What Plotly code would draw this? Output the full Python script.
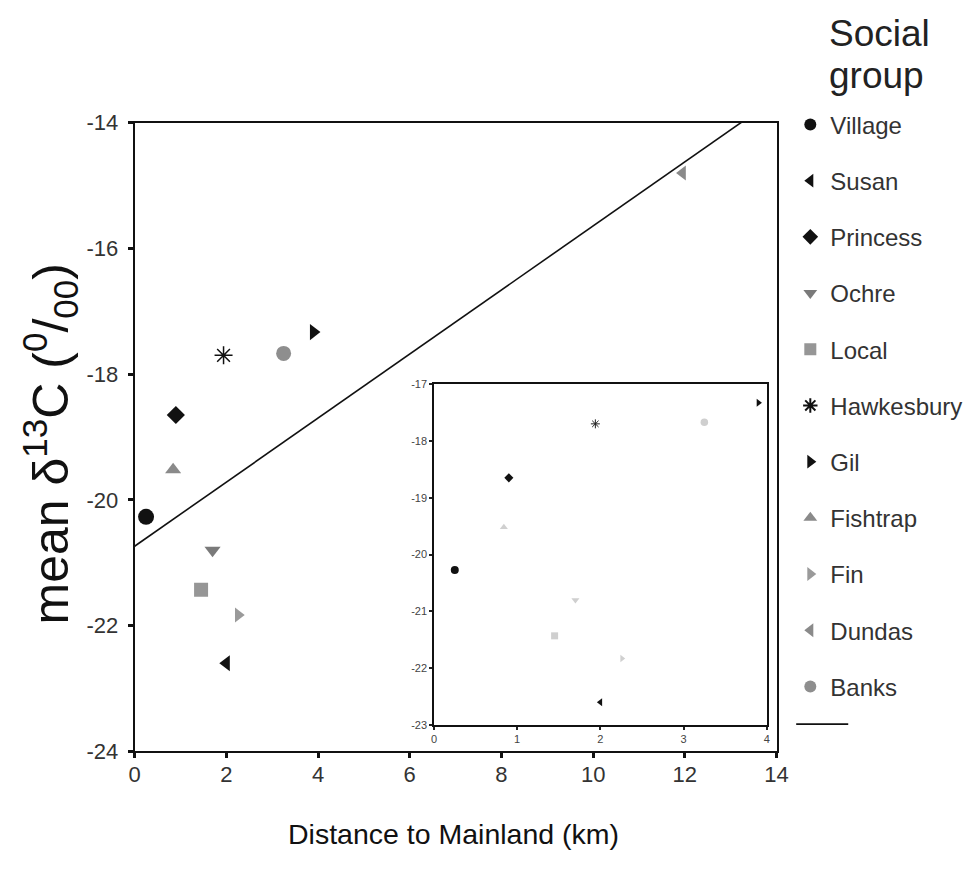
import numpy as np
import plotly.graph_objects as go

# Mean carbon isotope value per social group versus distance to the mainland
groups = ["Village", "Susan", "Princess", "Ochre", "Local", "Hawkesbury",
          "Gil", "Fishtrap", "Fin", "Dundas", "Banks"]
distance_km = [0.25, 2.0, 0.9, 1.7, 1.45, 1.94, 3.9, 0.84, 2.26, 11.95, 3.25]
mean_d13c = [-20.27, -22.6, -18.65, -20.8, -21.43, -17.7, -17.33, -19.52,
             -21.83, -14.8, -17.67]

symbols = ["circle", "triangle-left", "diamond", "triangle-down", "square",
           "asterisk-open", "triangle-right", "triangle-up", "triangle-right",
           "triangle-left", "circle"]
colors = ["#111111", "#111111", "#111111", "#7a7a7a", "#969696", "#111111",
          "#111111", "#8a8a8a", "#9a9a9a", "#8a8a8a", "#8e8e8e"]
inset_colors = ["#111111", "#111111", "#111111", "#cfcfcf", "#cfcfcf", "#222222",
                "#111111", "#d0d0d0", "#d0d0d0", "#d0d0d0", "#cfcfcf"]
sizes = [16, 14, 14, 14, 14, 15, 14, 14, 13, 13, 15]

x_ticks = [0, 2, 4, 6, 8, 10, 12, 14]
y_ticks = [-14, -16, -18, -20, -22, -24]
inset_x_ticks = [0, 1, 2, 3, 4]
inset_y_ticks = [-17, -18, -19, -20, -21, -22, -23]


def tick_labels(vals):
    # plain ASCII hyphen for negative numbers
    return [str(v) for v in vals]


# Least-squares line through all groups
slope, intercept = np.polyfit(distance_km, mean_d13c, 1)
fit_x = np.array([0.0, 14.0])
fit_y = intercept + slope * fit_x

W, H = 979, 876
FONT = "Liberation Sans, Arial, sans-serif"

fig = go.Figure()

for i, g in enumerate(groups):
    is_star = symbols[i] == "asterisk-open"
    fig.add_trace(go.Scatter(
        x=[distance_km[i]], y=[mean_d13c[i]], mode="markers", name=g,
        legendgroup=g,
        marker=dict(symbol=symbols[i], size=sizes[i], color=colors[i],
                    line=dict(width=1.5 if is_star else 0, color=colors[i])),
        xaxis="x", yaxis="y"))

fig.add_trace(go.Scatter(
    x=fit_x, y=fit_y, mode="lines", showlegend=False,
    line=dict(color="#111111", width=1.6), xaxis="x", yaxis="y"))

# Inset: close-up of the groups within 4 km
for i, g in enumerate(groups):
    is_star = symbols[i] == "asterisk-open"
    fig.add_trace(go.Scatter(
        x=[distance_km[i]], y=[mean_d13c[i]], mode="markers", showlegend=False,
        marker=dict(symbol=symbols[i], size=max(5, sizes[i] * 0.5),
                    color=inset_colors[i],
                    line=dict(width=1 if is_star else 0, color=inset_colors[i])),
        xaxis="x2", yaxis="y2"))

main_x = [131 / W, 785 / W]
main_y = [1 - 761 / H, 1 - 114 / H]
ins_x = [436 / W, 775 / W]
ins_y = [1 - 734 / H, 1 - 383 / H]

axis_common = dict(showgrid=False, zeroline=False, showline=True,
                   linecolor="#111111", mirror=True, ticks="outside")

fig.update_layout(
    width=W, height=H,
    margin=dict(l=0, r=0, t=0, b=0),
    paper_bgcolor="white", plot_bgcolor="white",
    font=dict(family=FONT, color="#222222"),
    xaxis=dict(domain=main_x, range=[0, 14], tickvals=x_ticks,
               ticktext=tick_labels(x_ticks), ticklabelstandoff=-3,
               linewidth=2, ticklen=5, tickwidth=3, tickcolor="#111111",
               tickfont=dict(size=22, color="#333333"), anchor="y",
               **axis_common),
    yaxis=dict(domain=main_y, range=[-24, -14], tickvals=y_ticks,
               ticktext=tick_labels(y_ticks), ticklabelstandoff=5,
               linewidth=2, ticklen=5, tickwidth=3, tickcolor="#111111",
               tickfont=dict(size=22, color="#333333"), anchor="x",
               **axis_common),
    xaxis2=dict(domain=ins_x, range=[0, 4], tickvals=inset_x_ticks,
                ticktext=tick_labels(inset_x_ticks),
                linewidth=1.5, ticklen=3, tickwidth=2, tickcolor="#222222",
                tickfont=dict(size=11, color="#444444"), anchor="y2",
                **axis_common),
    yaxis2=dict(domain=ins_y, range=[-23, -17], tickvals=inset_y_ticks,
                ticktext=tick_labels(inset_y_ticks),
                linewidth=1.5, ticklen=3, tickwidth=2, tickcolor="#222222",
                tickfont=dict(size=11, color="#444444"), anchor="x2",
                **axis_common),
    legend=dict(x=799 / W, y=1 - 93 / H, xanchor="left", yanchor="top",
                bgcolor="rgba(0,0,0,0)", borderwidth=0,
                font=dict(size=24, color="#333333", family=FONT),
                tracegroupgap=22, itemsizing="constant", traceorder="grouped"),
    showlegend=True,
    shapes=[
        # key sample for the fitted line
        dict(type="line", xref="paper", yref="paper",
             x0=805 / W, x1=858 / W, y0=1 - 733 / H, y1=1 - 733 / H,
             line=dict(color="#111111", width=1.6)),
    ],
    annotations=[
        dict(text="Social", x=890 / W, y=1 - 22 / H, xref="paper",
             yref="paper", xanchor="center", yanchor="middle", showarrow=False,
             font=dict(size=37, color="#222222", family=FONT)),
        dict(text="group", x=887 / W, y=1 - 65 / H, xref="paper",
             yref="paper", xanchor="center", yanchor="middle", showarrow=False,
             font=dict(size=37, color="#222222", family=FONT)),
        dict(text="mean δ<sup>13</sup>C (<sup>0</sup>/<sub>00</sub>)",
             x=45 / W, y=1 - 445 / H, xref="paper", yref="paper",
             xanchor="center", yanchor="middle", textangle=-90,
             showarrow=False, font=dict(size=50, color="#111111", family=FONT)),
        dict(text="Distance to Mainland (km)", x=456 / W, y=1 - 846 / H,
             xref="paper", yref="paper", xanchor="center", yanchor="middle",
             showarrow=False, font=dict(size=28.5, color="#111111", family=FONT)),
    ],
)

fig.write_html("out.html")
